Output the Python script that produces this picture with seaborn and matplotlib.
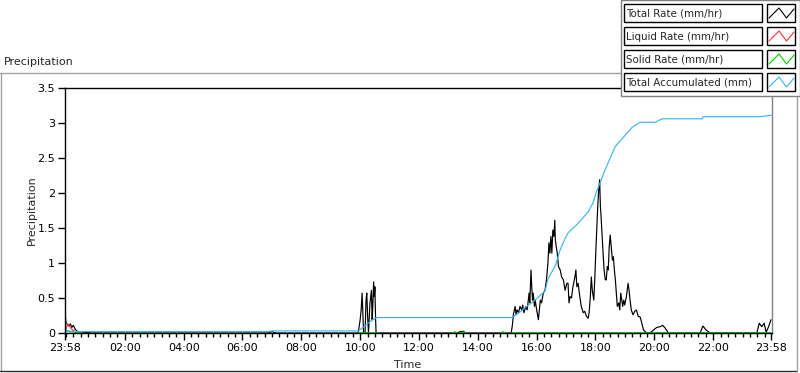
"""
Precipitation chart (LabVIEW-like look) redrawn with seaborn
"""
import numpy as np
import pandas as pd
import matplotlib
matplotlib.use("Agg")
import matplotlib.pyplot as plt
from matplotlib.patches import Rectangle
from matplotlib.lines import Line2D
import seaborn as sns

# time axis: minutes since 23:58 of the previous day
total_min = [0, 2, 5, 8, 11, 14, 17, 21, 26, 40, 55,
             415, 422, 430,
             598, 602, 604, 606, 607, 609, 612, 614, 615.5, 617.5, 619, 622, 625, 626.5, 628, 629.5, 631, 632, 633.5, 634.5,
             790, 796, 800, 806, 812, 818,
             888, 893, 898,
             910, 912.5, 914.5, 918, 920, 922, 925, 928, 931.5, 933.5, 936, 940, 942.5, 945, 946.5, 948, 949, 950.5,
             952, 953.5, 955, 957.5, 959, 962, 965.5, 967.5, 969.5, 972, 975.5, 979, 982, 985, 987, 989, 991, 993,
             995, 997, 999, 1000, 1002, 1004, 1006.5, 1010, 1013, 1016.5, 1020, 1023.5, 1026, 1028, 1030, 1033,
             1036, 1040, 1042, 1044, 1046.5, 1050, 1053, 1057, 1060, 1063.5, 1067, 1069, 1071.5, 1073.5, 1075.5,
             1078.5, 1080.5, 1082.5, 1084.5, 1086.5, 1088.5, 1090.5, 1092, 1093, 1095.5, 1097.5, 1099.5, 1102,
             1104, 1106, 1108, 1110, 1112, 1114.5, 1116.5, 1118.5, 1120.5, 1122.5, 1124.5, 1126.5, 1129.5, 1131.5,
             1133.5, 1135.5, 1137.5, 1139.5, 1141.5, 1145, 1148.5, 1150.5, 1152.5, 1155, 1158.5, 1162, 1165.5,
             1169, 1173, 1176.5, 1180, 1186.5, 1193.5, 1200, 1207, 1214, 1219, 1224, 1231,
             1295.5, 1301, 1308, 1316,
             1411, 1416, 1421, 1426, 1430, 1435, 1440]
total_rate = [0.27, 0.15, 0.12, 0.10, 0.13, 0.08, 0.11, 0.05, 0.02, 0.01, 0.0,
              0.0, 0.02, 0.0,
              0.0, 0.19, 0.33, 0.57, 0.38, 0.0, 0.0, 0.47, 0.57, 0.19, 0.0, 0.43, 0.61, 0.19, 0.43, 0.73, 0.52, 0.66, 0.19, 0.0,
              0.0, 0.01, 0.0, 0.02, 0.025, 0.0,
              0.0, 0.01, 0.0,
              0.0, 0.11, 0.26, 0.38, 0.26, 0.33, 0.29, 0.38, 0.33, 0.40, 0.29, 0.38, 0.33, 0.47, 0.57, 0.43, 0.61, 0.90,
              0.66, 0.47, 0.57, 0.38, 0.47, 0.33, 0.19, 0.33, 0.47, 0.43, 0.57, 0.61, 0.76, 1.00, 1.29, 1.14, 1.38, 1.14,
              1.47, 1.38, 1.61, 1.33, 1.23, 1.14, 0.95, 0.90, 0.80, 0.76, 0.61, 0.71, 0.71, 0.43, 0.52, 0.50,
              0.66, 0.80, 0.90, 0.66, 0.71, 0.52, 0.38, 0.29, 0.31, 0.24, 0.21, 0.29, 0.52, 0.80, 0.61,
              0.47, 0.76, 1.14, 1.47, 1.80, 2.04, 2.19, 1.80, 1.71, 1.38, 1.14, 0.90, 0.76,
              0.76, 0.95, 0.90, 1.23, 1.40, 1.19, 1.04, 1.09, 0.90, 0.76, 0.57, 0.38, 0.43, 0.33,
              0.57, 0.47, 0.38, 0.47, 0.40, 0.52, 0.71, 0.61, 0.47, 0.33, 0.26, 0.31, 0.33,
              0.24, 0.23, 0.14, 0.04, 0.0, 0.0, 0.04, 0.08, 0.09, 0.11, 0.07, 0.0,
              0.0, 0.10, 0.04, 0.0,
              0.0, 0.14, 0.09, 0.14, 0.01, 0.09, 0.19]

liquid_min = [0, 3, 6, 9, 13, 20, 28]
liquid_rate = [0.0, 0.08, 0.13, 0.10, 0.06, 0.02, 0.0]

solid_min = [0, 4, 10, 16, 22, 30, 155, 159, 163, 598, 640, 790, 796, 800,
             806, 812, 818, 888, 893, 898, 908, 1440]
solid_rate = [0.02, 0.03, 0.02, 0.02, 0.01, 0.0, 0.0, 0.01, 0.0, 0.0, 0.0, 0.0, 0.01, 0.0,
              0.0, 0.01, 0.0, 0.0, 0.01, 0.0, 0.0, 0.0]
solid_seg = [0, 0, 0, 0, 0, 0, 1, 1, 1, 2, 2, 3, 3, 3,
             4, 4, 4, 5, 5, 5, 6, 6]

accum_min = [0, 2, 410, 425, 598, 610, 618, 628, 634.5, 912, 928, 938, 959, 979, 985.5, 1000, 1010,
             1020, 1026, 1047, 1067, 1077, 1083, 1091, 1101.5, 1122, 1138, 1157, 1173, 1203.5, 1218,
             1299.5, 1301.5, 1418, 1440]
accum_mm = [0.47, 0.02, 0.02, 0.03, 0.03, 0.09, 0.14, 0.19, 0.22, 0.22, 0.30, 0.36, 0.47, 0.60, 0.78, 0.96, 1.19,
            1.35, 1.43, 1.57, 1.73, 1.86, 2.0, 2.14, 2.33, 2.66, 2.79, 2.94, 3.01, 3.01, 3.06,
            3.06, 3.09, 3.09, 3.11]

tick_min = [0, 122, 242, 362, 482, 602, 722, 842, 962, 1082, 1202, 1322, 1440]
tick_labels = ["23:58", "02:00", "04:00", "06:00", "08:00", "10:00", "12:00",
               "14:00", "16:00", "18:00", "20:00", "22:00", "23:58"]

legend_names = ["Total Rate (mm/hr)", "Liquid Rate (mm/hr)", "Solid Rate (mm/hr)", "Total Accumulated (mm)"]
legend_colors = ["#000000", "#ff3030", "#00cc00", "#3cb4f0"]

sns.set_style("white")
plt.rcParams['font.family'] = ['DejaVu Sans']
plt.rcParams['font.size'] = 8

W, H = 800, 373
fig = plt.figure(figsize=(W / 100, H / 100), dpi=100)


def px(x, y):
    # pixel (from top-left) -> figure fraction
    return x / W, 1 - y / H


ax = fig.add_axes([65 / W, 1 - 333 / H, 707 / W, 245 / H])

total_df = pd.DataFrame({"t": total_min, "v": total_rate})
liquid_df = pd.DataFrame({"t": liquid_min, "v": liquid_rate})
solid_df = pd.DataFrame({"t": solid_min, "v": solid_rate, "seg": solid_seg})
accum_df = pd.DataFrame({"t": accum_min, "v": accum_mm})

sns.lineplot(data=total_df, x="t", y="v", color=legend_colors[0], lw=0.85, estimator=None, ax=ax)
sns.lineplot(data=liquid_df, x="t", y="v", color=legend_colors[1], lw=0.85, estimator=None, ax=ax)
sns.lineplot(data=solid_df, x="t", y="v", units="seg", color=legend_colors[2], lw=1.2, estimator=None, ax=ax)
sns.lineplot(data=accum_df, x="t", y="v", color=legend_colors[3], lw=0.85, estimator=None, ax=ax)

ax.set_xlim(0, 1442)
ax.set_ylim(0, 3.5)
ax.set_xticks(tick_min)
ax.set_xticklabels(tick_labels)
ax.set_xticks(np.arange(2, 1441, 15), minor=True)
ax.set_yticks([0, 0.5, 1, 1.5, 2, 2.5, 3, 3.5])
ax.set_yticklabels(["0", "0.5", "1", "1.5", "2", "2.5", "3", "3.5"])
ax.tick_params(axis="both", which="major", direction="out", length=5, width=1, pad=2, labelsize=8,
               bottom=True, left=True, colors="black")
ax.tick_params(axis="x", which="minor", direction="out", length=3, width=1, bottom=True, colors="black")

for s in ["left", "top", "bottom"]:
    ax.spines[s].set_color("black")
    ax.spines[s].set_linewidth(1)
ax.spines["right"].set_color("#808080")
ax.spines["right"].set_linewidth(1)

ax.set_xlabel("Time")
ax.set_ylabel("Precipitation")
ax.xaxis.set_label_coords(0.485, -0.11)
ax.yaxis.set_label_coords(-0.04, 0.5)

# panel title
fig.text(*px(4, 62), "Precipitation", ha="left", va="center", fontsize=8)

# outer frame
fig.add_artist(Line2D([0, 621 / W], [1 - 73 / H] * 2, color="#a0a0a0", lw=1))
fig.add_artist(Line2D([0.5 / W] * 2, [1 - 73 / H, 1 - 371 / H], color="#a0a0a0", lw=1))
fig.add_artist(Line2D([0, 797 / W], [1 - 371 / H] * 2, color="#303030", lw=1))
fig.add_artist(Line2D([797 / W] * 2, [1 - 96 / H, 1 - 371 / H], color="#a0a0a0", lw=1))

# legend panel
fig.add_artist(Rectangle(px(621, 96), 179 / W, 96 / H, facecolor="white", edgecolor="#808080",
                         lw=1, zorder=10))
rows = [4, 27, 50, 73]
for top, name, col in zip(rows, legend_names, legend_colors):
    fig.add_artist(Rectangle(px(624, top + 18), 138 / W, 18 / H, facecolor="white", edgecolor="black",
                             lw=1, zorder=11))
    fig.add_artist(Rectangle(px(767, top + 18), 28 / W, 18 / H, facecolor="white", edgecolor="black",
                             lw=1, zorder=11))
    fig.text(*px(626, top + 9.5), name, ha="left", va="center", fontsize=7.4, zorder=12)
    zx = [769 / W, 779 / W, 786.5 / W, 794 / W]
    zy = [1 - (top + 14) / H, 1 - (top + 4) / H, 1 - (top + 14) / H, 1 - (top + 5) / H]
    fig.add_artist(Line2D(zx, zy, color=col, lw=0.8, zorder=12))

fig.savefig("out.png", dpi=100)
